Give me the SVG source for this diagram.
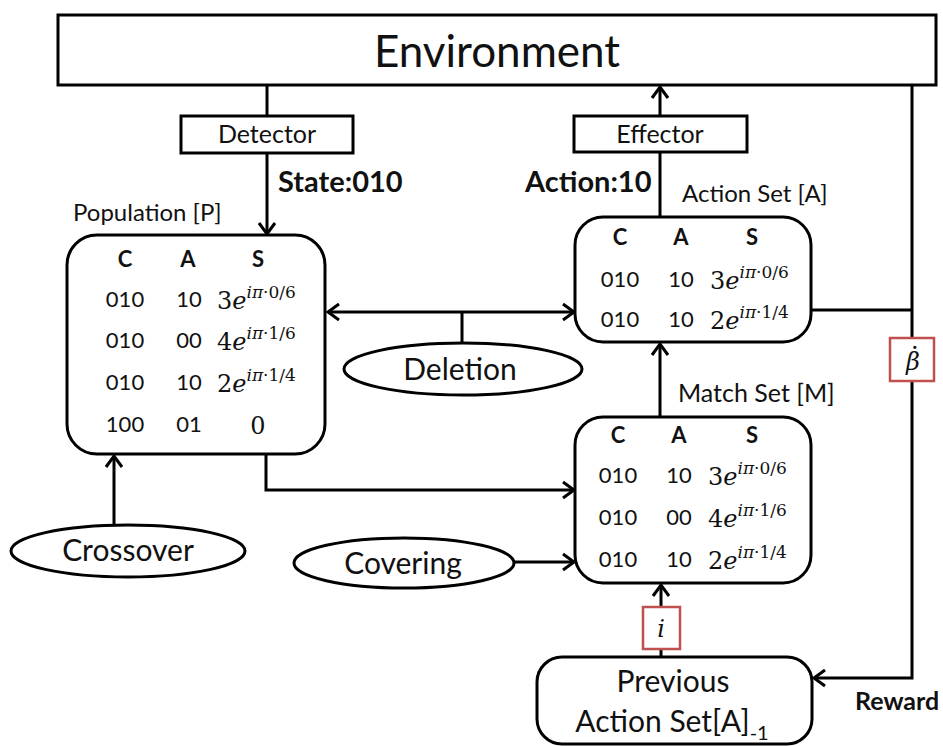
<svg xmlns="http://www.w3.org/2000/svg" width="943" height="746" viewBox="0 0 943 746">
  <defs>
    <style>
      .ln { fill: none; stroke: #000; stroke-width: 3; }
      .bx { fill: #fff; stroke: #000; stroke-width: 3; }
      .rb { fill: #fff; stroke: #C0504D; stroke-width: 2.5; }
      .t { font-family: Lato, "Open Sans", "Liberation Sans", sans-serif; fill: #111; }
      .b { font-weight: bold; }
      .c { text-anchor: middle; }
      .m { font-family: "DejaVu Serif", "Liberation Serif", serif; fill: #111; font-size: 24px; }
      .sup { font-size: 17px; }
      .it { font-style: italic; }
      .tbl { font-size: 22px; }
    </style>
    <marker id="ah" viewBox="-14 -10 16 20" refX="0" refY="0" markerWidth="16" markerHeight="20"
            markerUnits="userSpaceOnUse" orient="auto-start-reverse" overflow="visible">
      <path d="M-11,-8 L0,0 L-11,8" fill="none" stroke="#000" stroke-width="3"/>
    </marker>
  </defs>

  <rect width="943" height="746" fill="#fff"/>

  <!-- connectors -->
  <g id="connectors">
    <line class="ln" x1="267" y1="85" x2="267" y2="116"/>
    <line class="ln" x1="267" y1="153" x2="267" y2="234" marker-end="url(#ah)"/>
    <line class="ln" x1="660" y1="217" x2="660" y2="152"/>
    <line class="ln" x1="660" y1="116" x2="660" y2="87" marker-end="url(#ah)"/>
    <line class="ln" x1="328" y1="312" x2="574" y2="312" marker-start="url(#ah)" marker-end="url(#ah)"/>
    <line class="ln" x1="462" y1="312" x2="462" y2="343"/>
    <path class="ln" d="M266,454 V490 H574" marker-end="url(#ah)"/>
    <line class="ln" x1="514" y1="562" x2="574" y2="562" marker-end="url(#ah)"/>
    <line class="ln" x1="114" y1="525" x2="114" y2="456" marker-end="url(#ah)"/>
    <line class="ln" x1="660" y1="417" x2="660" y2="344" marker-end="url(#ah)"/>
    <line class="ln" x1="661" y1="657" x2="661" y2="585" marker-end="url(#ah)"/>
    <line class="ln" x1="811" y1="310" x2="912" y2="310"/>
    <path class="ln" d="M912,85 V678 H814" marker-end="url(#ah)"/>
  </g>

  <!-- environment -->
  <g id="environment">
    <rect class="bx" x="58" y="15" width="878" height="70"/>
    <text class="t c" x="497" y="67" font-size="44">Environment</text>
  </g>

  <!-- detector -->
  <g id="detector">
    <rect class="bx" x="181" y="116" width="172" height="37"/>
    <text class="t c" x="267" y="143" font-size="25">Detector</text>
    <text class="t b" x="278" y="192" font-size="29">State:010</text>
  </g>

  <!-- effector -->
  <g id="effector">
    <rect class="bx" x="574" y="116" width="173" height="36"/>
    <text class="t c" x="660" y="143" font-size="25">Effector</text>
    <text class="t b" x="525" y="192" font-size="29">Action:10</text>
  </g>

  <!-- population -->
  <g id="population">
    <text class="t" x="73" y="221" font-size="24">Population [P]</text>
    <rect class="bx" x="67" y="235" width="258" height="219" rx="30"/>
    <g class="t tbl c">
      <text class="b" x="125" y="267">C</text>
      <text class="b" x="188" y="267">A</text>
      <text class="b" x="258" y="267">S</text>
      <text x="125" y="307">010</text><text x="189" y="307">10</text>
      <text x="125" y="348">010</text><text x="189" y="348">00</text>
      <text x="125" y="390">010</text><text x="189" y="390">10</text>
      <text x="125" y="432">100</text><text x="189" y="432">01</text>
    </g>
    <text class="m" x="217" y="309">3<tspan class="it">e</tspan><tspan class="sup" dy="-11"><tspan class="it">iπ</tspan>·0/6</tspan></text>
    <text class="m" x="217" y="350">4<tspan class="it">e</tspan><tspan class="sup" dy="-11"><tspan class="it">iπ</tspan>·1/6</tspan></text>
    <text class="m" x="217" y="392">2<tspan class="it">e</tspan><tspan class="sup" dy="-11"><tspan class="it">iπ</tspan>·1/4</tspan></text>
    <text class="m c" x="258" y="434">0</text>
  </g>

  <!-- action set -->
  <g id="action-set">
    <text class="t" x="682" y="202" font-size="24">Action Set [A]</text>
    <rect class="bx" x="575" y="217" width="236" height="125" rx="28"/>
    <g class="t tbl c">
      <text class="b" x="620" y="245">C</text>
      <text class="b" x="681" y="245">A</text>
      <text class="b" x="752" y="245">S</text>
      <text x="620" y="287">010</text><text x="681" y="287">10</text>
      <text x="620" y="327">010</text><text x="681" y="327">10</text>
    </g>
    <text class="m" x="710" y="289">3<tspan class="it">e</tspan><tspan class="sup" dy="-11"><tspan class="it">iπ</tspan>·0/6</tspan></text>
    <text class="m" x="710" y="329">2<tspan class="it">e</tspan><tspan class="sup" dy="-11"><tspan class="it">iπ</tspan>·1/4</tspan></text>
  </g>

  <!-- match set -->
  <g id="match-set">
    <text class="t" x="678" y="402" font-size="25">Match Set [M]</text>
    <rect class="bx" x="575" y="417" width="236" height="166" rx="28"/>
    <g class="t tbl c">
      <text class="b" x="618" y="443">C</text>
      <text class="b" x="679" y="443">A</text>
      <text class="b" x="752" y="443">S</text>
      <text x="618" y="483">010</text><text x="679" y="483">10</text>
      <text x="618" y="525">010</text><text x="679" y="525">00</text>
      <text x="618" y="567">010</text><text x="679" y="567">10</text>
    </g>
    <text class="m" x="708" y="485">3<tspan class="it">e</tspan><tspan class="sup" dy="-11"><tspan class="it">iπ</tspan>·0/6</tspan></text>
    <text class="m" x="708" y="527">4<tspan class="it">e</tspan><tspan class="sup" dy="-11"><tspan class="it">iπ</tspan>·1/6</tspan></text>
    <text class="m" x="708" y="569">2<tspan class="it">e</tspan><tspan class="sup" dy="-11"><tspan class="it">iπ</tspan>·1/4</tspan></text>
  </g>

  <!-- deletion -->
  <g id="deletion">
    <ellipse class="bx" cx="463" cy="369" rx="119" ry="26"/>
    <text class="t c" x="460" y="380" font-size="30">Deletion</text>
  </g>

  <!-- crossover -->
  <g id="crossover">
    <ellipse class="bx" cx="128" cy="551" rx="117" ry="26"/>
    <text class="t c" x="128" y="561" font-size="30">Crossover</text>
  </g>

  <!-- covering -->
  <g id="covering">
    <ellipse class="bx" cx="404" cy="563" rx="110" ry="25"/>
    <text class="t c" x="403" y="574" font-size="30">Covering</text>
  </g>

  <!-- i label -->
  <g id="i-label">
    <rect class="rb" x="643" y="607" width="37" height="42"/>
    <text class="m it c" x="661" y="637" font-size="26">i</text>
  </g>

  <!-- beta label: beta with an overdot -->
  <g id="beta-label">
    <rect class="rb" x="890" y="338" width="44" height="43"/>
    <text class="m it c" x="913" y="370" font-size="21">β<tspan dx="-9" dy="-14" font-style="normal">·</tspan></text>
  </g>

  <!-- previous action set -->
  <g id="previous-action-set">
    <rect class="bx" x="537" y="657" width="275" height="87" rx="25"/>
    <text class="t c" x="673" y="692" font-size="30">Previous</text>
    <text class="t c" x="672" y="732" font-size="30">Action Set[A]<tspan font-size="20" dy="8">-1</tspan></text>
    <text class="t b" x="855" y="710" font-size="25">Reward</text>
  </g>
</svg>
